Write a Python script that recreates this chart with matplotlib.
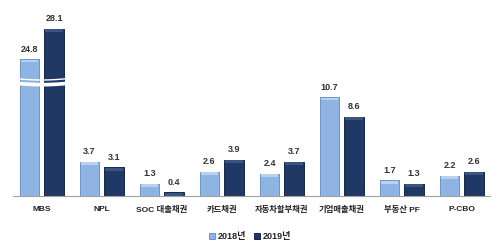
import numpy as np
import matplotlib
matplotlib.use("Agg")
import matplotlib.pyplot as plt

plt.rcParams['font.family'] = ['Liberation Sans', 'Noto Sans CJK KR', 'DejaVu Sans']

categories = ['MBS', 'NPL', 'SOC 대출채권', '카드채권', '자동차할부채권', '기업매출채권', '부동산 PF', 'P-CBO']
v2018 = [24.8, 3.7, 1.3, 2.6, 2.4, 10.7, 1.7, 2.2]
v2019 = [28.1, 3.1, 0.4, 3.9, 3.7, 8.6, 1.3, 2.6]
series_names = ['2018년', '2019년']

# broken axis: squeeze the range between B0 and B1
B0, B1 = 13.0, 23.5
S = 0.5 / (B1 - B0)


def fwd(v):
    v = np.asarray(v, dtype=float)
    return np.where(v < B0, v, np.where(v < B1, B0 + (v - B0) * S, v - (B1 - B0) + 0.5))


def inv(u):
    u = np.asarray(u, dtype=float)
    return np.where(u < B0, u, np.where(u < B0 + 0.5, B0 + (u - B0) / S, u + (B1 - B0) - 0.5))


c18, c19 = '#8db4e2', '#1f3864'
e18, e19 = '#7093c0', '#14284c'
cap18, cap19 = '#b9d1ef', '#3b5583'

fig = plt.figure(figsize=(5.0, 2.52), dpi=100)
ax = fig.add_axes([0.026, 0.222, 0.954, 0.778])
ax.set_yscale('function', functions=(fwd, inv))

x = np.arange(len(categories))
w = 0.33
off = 0.205
b1 = ax.bar(x - off, v2018, w, color=c18, edgecolor=e18, linewidth=0.7, label=series_names[0], zorder=2)
b2 = ax.bar(x + off, v2019, w, color=c19, edgecolor=e19, linewidth=0.7, label=series_names[1], zorder=2)

# lighter top caps (bevel look)
cap = 0.3
ax.bar(x - off, cap, w * 0.9, bottom=np.array(v2018) - cap - 0.05, color=cap18, lw=0, zorder=2.5)
ax.bar(x + off, cap, w * 0.9, bottom=np.array(v2019) - cap - 0.05, color=cap19, lw=0, zorder=2.5)

for bars, vals in ((b1, v2018), (b2, v2019)):
    for r, v in zip(bars, vals):
        ax.annotate(f'{v:.1f}', (r.get_x() + r.get_width() / 2, v), xytext=(0, 4),
                    textcoords='offset points', ha='center', va='bottom',
                    fontsize=6.5, fontweight='bold', color='#333333')

# break mark across MBS bars
xs = np.linspace(-0.42, 0.42, 50)
sag = 0.15 * (1 - (xs / 0.42) ** 2)
ax.fill_between(xs, 12.05 - sag, 12.45 - sag, color='white', zorder=3, lw=0)
ax.plot(xs, 12.7 - sag, color='white', lw=1.0, zorder=3)

ax.set_ylim(0, 31.2)
ax.set_xlim(-0.48, 7.47)
for s in ['top', 'right', 'left']:
    ax.spines[s].set_visible(False)
ax.spines['bottom'].set_color('#a0a0a0')
ax.spines['bottom'].set_linewidth(0.8)
ax.set_yticks([])
ax.set_xticks(x)
ax.set_xticklabels(categories, fontsize=6, fontweight='bold', color='#222222')
ax.tick_params(axis='x', length=0, pad=7)

leg = fig.legend(handles=[b1, b2], loc='center', bbox_to_anchor=(0.5, 0.06), ncol=2,
                 frameon=False, handlelength=0.7, handleheight=0.7,
                 handletextpad=0.3, columnspacing=0.8, prop={'weight': 'bold', 'size': 6.5})
for t in leg.get_texts():
    t.set_color('#222222')

fig.savefig('out.png', dpi=100)
